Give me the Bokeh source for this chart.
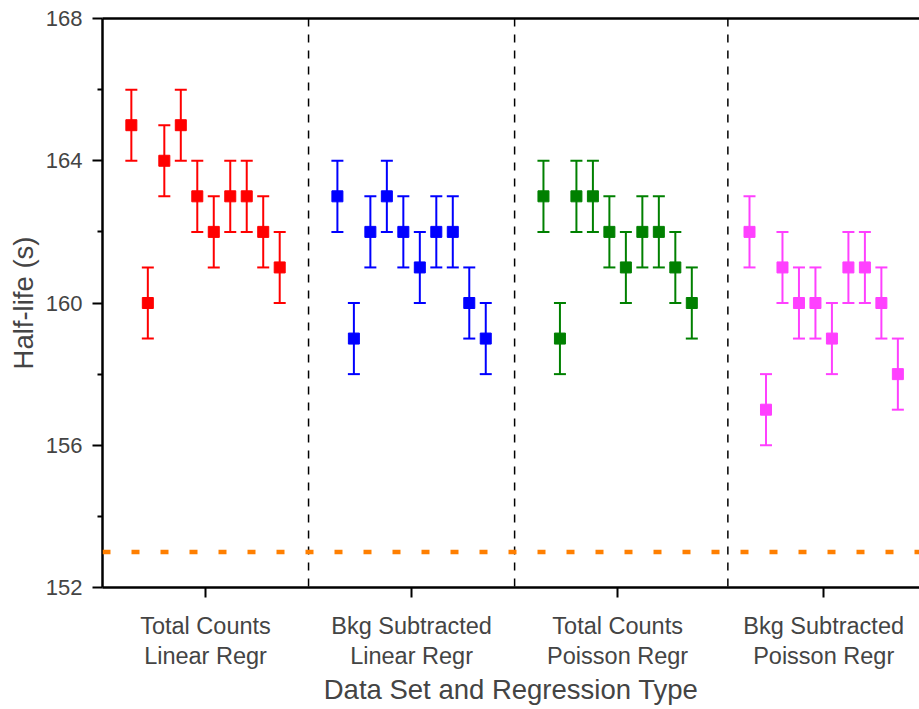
from bokeh.plotting import figure
from bokeh.models import (Range1d, LinearAxis, FixedTicker, Whisker, TeeHead,
                          Span, ColumnDataSource)
from bokeh.embed import file_html
from bokeh.resources import INLINE

# ---- data ----
group_line1 = ["Total Counts", "Bkg Subtracted", "Total Counts", "Bkg Subtracted"]
group_line2 = ["Linear Regr", "Linear Regr", "Poisson Regr", "Poisson Regr"]
group_pos = [1, 2, 3, 4]
total_linear = [165, 160, 164, 165, 163, 162, 163, 163, 162, 161]
bkg_linear = [163, 159, 162, 163, 162, 161, 162, 162, 160, 159]
total_poisson = [163, 159, 163, 163, 162, 161, 162, 162, 161, 160]
bkg_poisson = [162, 157, 161, 160, 160, 159, 161, 161, 160, 158]
uncertainty = [1, 1, 1, 1, 1, 1, 1, 1, 1, 1]
reference_half_life = 153
divider_positions = [1.5, 2.5, 3.535]
y_major = [152, 156, 160, 164, 168]
y_minor = [154, 158, 162, 166]

series = [total_linear, bkg_linear, total_poisson, bkg_poisson]
colors = ["#FF0000", "#0000FF", "#008000", "#FF40FF"]
FONT = "Liberation Sans"
spacing = 0.08

p = figure(width=919, height=709, x_range=Range1d(0.5, 4.465),
           y_range=Range1d(152, 168), output_backend="svg",
           toolbar_location=None, x_axis_location=None,
           min_border_left=102, min_border_right=0, min_border_top=18,
           min_border_bottom=122)
p.outline_line_color = None
p.xgrid.visible = False
p.ygrid.visible = False
p.background_fill_color = "white"
p.border_fill_color = "white"

# y axis
ya = p.yaxis[0]
ya.ticker = FixedTicker(ticks=y_major, minor_ticks=y_minor)
ya.axis_label = "Half-life (s)"
ya.axis_label_text_font = FONT
ya.axis_label_text_font_size = "27.5px"
ya.axis_label_text_font_style = "normal"
ya.axis_label_standoff = 4
ya.major_label_text_font = FONT
ya.major_label_text_font_size = "22px"
ya.major_label_standoff = 10
ya.axis_line_width = 2.5
ya.major_tick_line_width = 2
ya.minor_tick_line_width = 2
ya.major_tick_out = 10
ya.major_tick_in = 0
ya.minor_tick_out = 5
ya.minor_tick_in = 0

# top border line
top = LinearAxis(ticker=FixedTicker(ticks=[]), axis_line_width=2.5,
                 major_tick_line_color=None, minor_tick_line_color=None,
                 major_label_text_font_size="0px")
p.add_layout(top, "above")

# bottom axis: first label line with ticks
xa1 = LinearAxis(ticker=FixedTicker(ticks=group_pos),
                 major_label_overrides={g: t for g, t in zip(group_pos, group_line1)})
xa1.axis_line_width = 2.5
xa1.major_tick_line_width = 2
xa1.major_tick_out = 10
xa1.major_tick_in = 0
xa1.minor_tick_line_color = None
xa1.major_label_text_font = FONT
xa1.major_label_text_font_size = "23.5px"
xa1.major_label_standoff = 15
p.add_layout(xa1, "below")

# bottom axis: second label line and title
xa2 = LinearAxis(ticker=FixedTicker(ticks=group_pos),
                 major_label_overrides={g: t for g, t in zip(group_pos, group_line2)})
xa2.axis_line_color = None
xa2.major_tick_line_color = None
xa2.minor_tick_line_color = None
xa2.major_tick_out = 0
xa2.major_tick_in = 0
xa2.major_label_text_font = FONT
xa2.major_label_text_font_size = "23.5px"
xa2.major_label_standoff = 1
xa2.axis_label = "Data Set and Regression Type"
xa2.axis_label_text_font = FONT
xa2.axis_label_text_font_size = "27.5px"
xa2.axis_label_text_font_style = "normal"
xa2.axis_label_standoff = 2
p.add_layout(xa2, "below")

# dividers and reference line
for d in divider_positions:
    p.add_layout(Span(location=d, dimension="height", line_color="black",
                      line_width=1.5, line_dash="8 8"))
p.add_layout(Span(location=reference_half_life, dimension="width",
                  line_color="#FF7F00", line_width=4.5, line_dash="8 21"))

# data
for gi, (vals, col) in enumerate(zip(series, colors)):
    n = len(vals)
    xs = [group_pos[gi] + (i - (n - 1) / 2) * spacing for i in range(n)]
    src = ColumnDataSource(dict(
        x=xs, y=vals,
        upper=[v + e for v, e in zip(vals, uncertainty)],
        lower=[v - e for v, e in zip(vals, uncertainty)]))
    w = Whisker(source=src, base="x", upper="upper", lower="lower",
                line_color=col, line_width=2,
                upper_head=TeeHead(size=12, line_color=col, line_width=2),
                lower_head=TeeHead(size=12, line_color=col, line_width=2))
    p.add_layout(w)
    p.scatter("x", "y", source=src, marker="square", size=11,
              fill_color=col, line_color=col)

open("out.html", "w").write(file_html(p, INLINE))
